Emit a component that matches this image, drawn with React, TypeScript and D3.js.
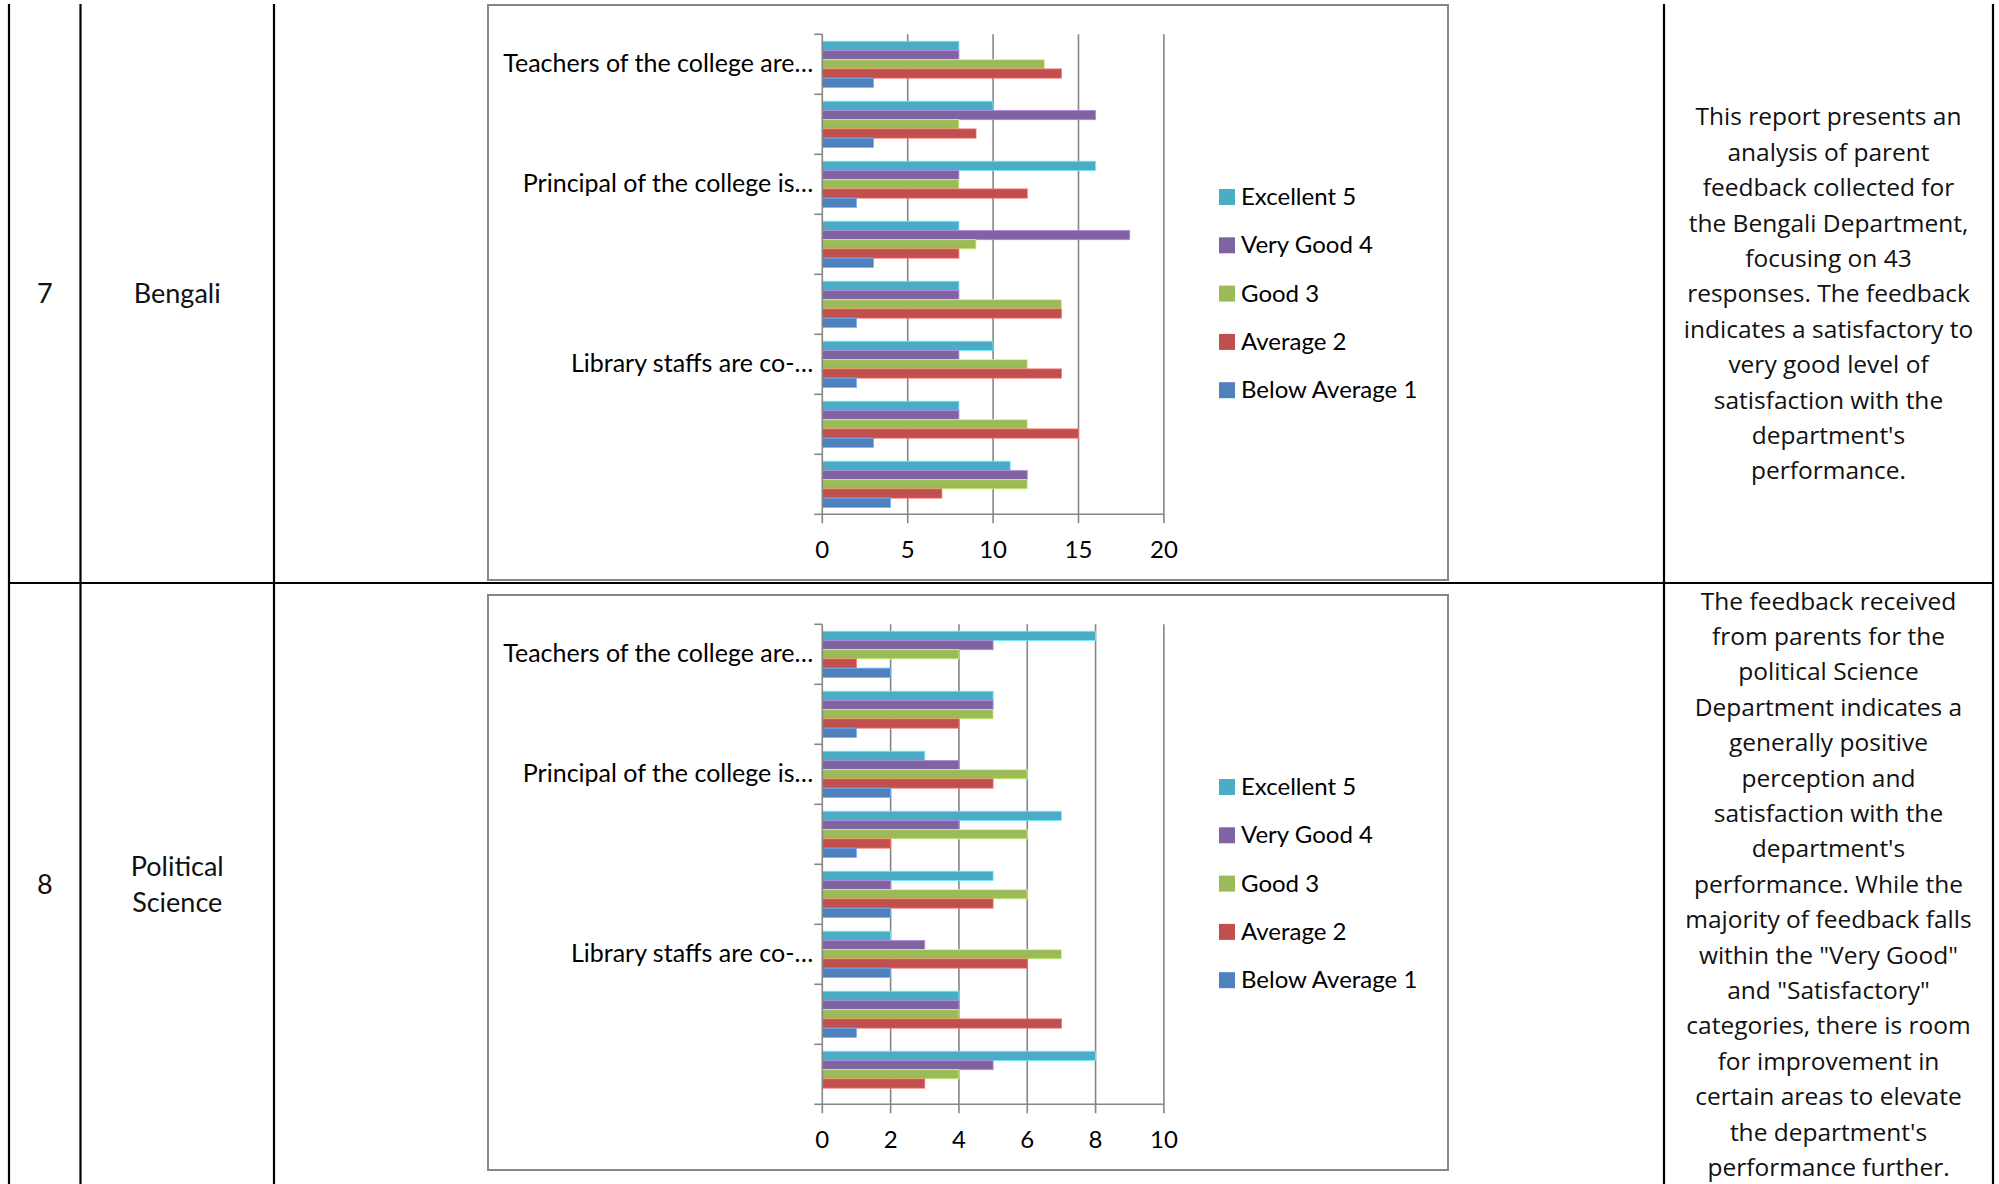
import React from 'react';
import * as d3 from 'd3';

// ---------- data ----------
const seriesNames = ['Excellent 5', 'Very Good 4', 'Good 3', 'Average 2', 'Below Average 1'];
const seriesColors = ['#4BACC6', '#8064A2', '#9BBB59', '#C0504D', '#4F81BD'];
const categoryLabels = [
  'Teachers of the college are…',
  '',
  'Principal of the college is…',
  '',
  '',
  'Library staffs are co-…',
  '',
  '',
];

const bengaliExcellent = [8, 10, 16, 8, 8, 10, 8, 11];
const bengaliVeryGood = [8, 16, 8, 18, 8, 8, 8, 12];
const bengaliGood = [13, 8, 8, 9, 14, 12, 12, 12];
const bengaliAverage = [14, 9, 12, 8, 14, 14, 15, 7];
const bengaliBelowAverage = [3, 3, 2, 3, 2, 2, 3, 4];
const bengaliTicks = [0, 5, 10, 15, 20];

const polSciExcellent = [8, 5, 3, 7, 5, 2, 4, 8];
const polSciVeryGood = [5, 5, 4, 4, 2, 3, 4, 5];
const polSciGood = [4, 5, 6, 6, 6, 7, 4, 4];
const polSciAverage = [1, 4, 5, 2, 5, 6, 7, 3];
const polSciBelowAverage = [2, 1, 2, 1, 2, 2, 1, 0];
const polSciTicks = [0, 2, 4, 6, 8, 10];

const rowNumbers = ['7', '8'];
const departmentNames = [['Bengali'], ['Political', 'Science']];

const bengaliDescription = [
  'This report presents an',
  'analysis of parent',
  'feedback collected for',
  'the Bengali Department,',
  'focusing on 43',
  'responses. The feedback',
  'indicates a satisfactory to',
  'very good level of',
  'satisfaction with the',
  "department's",
  'performance.',
];
const polSciDescription = [
  'The feedback received',
  'from parents for the',
  'political Science',
  'Department indicates a',
  'generally positive',
  'perception and',
  'satisfaction with the',
  "department's",
  'performance. While the',
  'majority of feedback falls',
  'within the "Very Good"',
  'and "Satisfactory"',
  'categories, there is room',
  'for improvement in',
  'certain areas to elevate',
  "the department's",
  'performance further.',
];

// ---------- layout ----------
const W = 1999;
const H = 1184;
const colX = [9, 80.5, 274, 1664, 1993];
const tableTop = 4;
const rowDivider = 583;
const rowCenters = [293.5, 884];
const chartOffsets = [0, 590];

const frame = { x0: 488, x1: 1448, y0: 5, y1: 580 };
const plot = { x0: 822.3, x1: 1163.9, y0: 34.3, y1: 514.3 };
const legend = { x: 1219, y0: 197, step: 48.3, box: 16 };

const CHART_FONT = 'Lato, "Open Sans", sans-serif';
const DESC_FONT = '"Open Sans", "Noto Sans", sans-serif';
const AXIS_GRAY = '#868686';

type ChartProps = { dy: number; series: number[][]; ticks: number[] };

function Chart({ dy, series, ticks }: ChartProps) {
  const x = d3
    .scaleLinear()
    .domain([0, ticks[ticks.length - 1]])
    .range([plot.x0, plot.x1]);
  const cats = d3.range(categoryLabels.length);
  const y0 = d3
    .scaleBand<number>()
    .domain(cats)
    .range([plot.y0 + dy, plot.y1 + dy])
    .paddingInner(0)
    .paddingOuter(0);
  const y1 = d3
    .scaleBand<number>()
    .domain(d3.range(seriesNames.length))
    .range([0, y0.bandwidth()])
    .paddingInner(0)
    .paddingOuter(0.75);
  const boundaries = d3.range(categoryLabels.length + 1).map(
    (i) => plot.y0 + dy + i * y0.bandwidth()
  );
  const yBottom = plot.y1 + dy;
  const yTop = plot.y0 + dy;

  return (
    <g>
      <rect
        x={frame.x0}
        y={frame.y0 + dy}
        width={frame.x1 - frame.x0}
        height={frame.y1 - frame.y0}
        fill="#fff"
        stroke={AXIS_GRAY}
        strokeWidth={2}
      />
      {/* gridlines */}
      {ticks.slice(1).map((t) => (
        <line
          key={'g' + t}
          x1={x(t)}
          x2={x(t)}
          y1={yTop}
          y2={yBottom + 9}
          stroke={AXIS_GRAY}
          strokeWidth={1.6}
        />
      ))}
      {/* bars */}
      {series.map((vals, s) =>
        vals.map((v, c) => (
          <rect
            key={'b' + s + '-' + c}
            x={x(0)}
            y={(y0(c) as number) + (y1(s) as number)}
            width={x(v) - x(0)}
            height={y1.bandwidth()}
            fill={seriesColors[s]}
            stroke={d3.color(seriesColors[s])!.brighter(0.9).formatHex()}
            strokeWidth={0.8}
          />
        ))
      )}
      {/* category axis */}
      <line x1={x(0)} x2={x(0)} y1={yTop} y2={yBottom + 9} stroke={AXIS_GRAY} strokeWidth={1.6} />
      {boundaries.map((b, i) => (
        <line key={'ct' + i} x1={x(0) - 8} x2={x(0)} y1={b} y2={b} stroke={AXIS_GRAY} strokeWidth={1.6} />
      ))}
      {/* value axis */}
      <line x1={x(0)} x2={x(ticks[ticks.length - 1])} y1={yBottom} y2={yBottom} stroke={AXIS_GRAY} strokeWidth={1.6} />
      {ticks.map((t) => (
        <text
          key={'tl' + t}
          x={x(t)}
          y={yBottom + 44}
          textAnchor="middle"
          fontFamily={CHART_FONT}
          fontSize={24}
          fill="#000"
        >
          {t}
        </text>
      ))}
      {categoryLabels.map((lab, i) =>
        lab ? (
          <text
            key={'cl' + i}
            x={x(0) - 9}
            y={(y0(i) as number) + y0.bandwidth() / 2 + 8}
            textAnchor="end"
            fontFamily={CHART_FONT}
            fontSize={25}
            fill="#000"
          >
            {lab}
          </text>
        ) : null
      )}
      {/* legend */}
      {seriesNames.map((name, i) => {
        const cy = legend.y0 + dy + i * legend.step;
        return (
          <g key={'lg' + i}>
            <rect
              x={legend.x}
              y={cy - legend.box / 2}
              width={legend.box}
              height={legend.box}
              fill={seriesColors[i]}
            />
            <text
              x={legend.x + legend.box + 6}
              y={cy + 8}
              fontFamily={CHART_FONT}
              fontSize={24}
              fill="#000"
            >
              {name}
            </text>
          </g>
        );
      })}
    </g>
  );
}

function CenteredLines({
  lines,
  cx,
  cy,
  lineHeight,
  fontSize,
  font,
}: {
  lines: string[];
  cx: number;
  cy: number;
  lineHeight: number;
  fontSize: number;
  font: string;
}) {
  const first = cy - ((lines.length - 1) * lineHeight) / 2;
  return (
    <text textAnchor="middle" fontFamily={font} fontSize={fontSize} fill="#111">
      {lines.map((l, i) => (
        <tspan key={i} x={cx} y={first + i * lineHeight + fontSize * 0.36}>
          {l}
        </tspan>
      ))}
    </text>
  );
}

export default function App() {
  const bengaliSeries = [bengaliExcellent, bengaliVeryGood, bengaliGood, bengaliAverage, bengaliBelowAverage];
  const polSciSeries = [polSciExcellent, polSciVeryGood, polSciGood, polSciAverage, polSciBelowAverage];
  const descriptions = [bengaliDescription, polSciDescription];

  return (
    <svg
      width={W}
      height={H}
      viewBox={`0 0 ${W} ${H}`}
      style={{ position: 'absolute', left: 0, top: 0, background: '#fff' }}
    >
      <rect x={0} y={0} width={W} height={H} fill="#fff" />
      <Chart dy={chartOffsets[0]} series={bengaliSeries} ticks={bengaliTicks} />
      <Chart dy={chartOffsets[1]} series={polSciSeries} ticks={polSciTicks} />

      {/* table grid */}
      {colX.map((cx, i) => (
        <line key={'v' + i} x1={cx} x2={cx} y1={tableTop} y2={H} stroke="#000" strokeWidth={2.2} />
      ))}
      <line x1={colX[0]} x2={colX[colX.length - 1]} y1={rowDivider} y2={rowDivider} stroke="#000" strokeWidth={2.2} />

      {rowNumbers.map((n, i) => (
        <CenteredLines
          key={'n' + i}
          lines={[n]}
          cx={(colX[0] + colX[1]) / 2}
          cy={rowCenters[i]}
          lineHeight={36}
          fontSize={27}
          font={CHART_FONT}
        />
      ))}
      {departmentNames.map((d, i) => (
        <CenteredLines
          key={'d' + i}
          lines={d}
          cx={(colX[1] + colX[2]) / 2}
          cy={rowCenters[i]}
          lineHeight={36}
          fontSize={27}
          font={CHART_FONT}
        />
      ))}
      {descriptions.map((d, i) => (
        <CenteredLines
          key={'t' + i}
          lines={d}
          cx={(colX[3] + colX[4]) / 2}
          cy={rowCenters[i]}
          lineHeight={35.4}
          fontSize={24.5}
          font={DESC_FONT}
        />
      ))}
    </svg>
  );
}
